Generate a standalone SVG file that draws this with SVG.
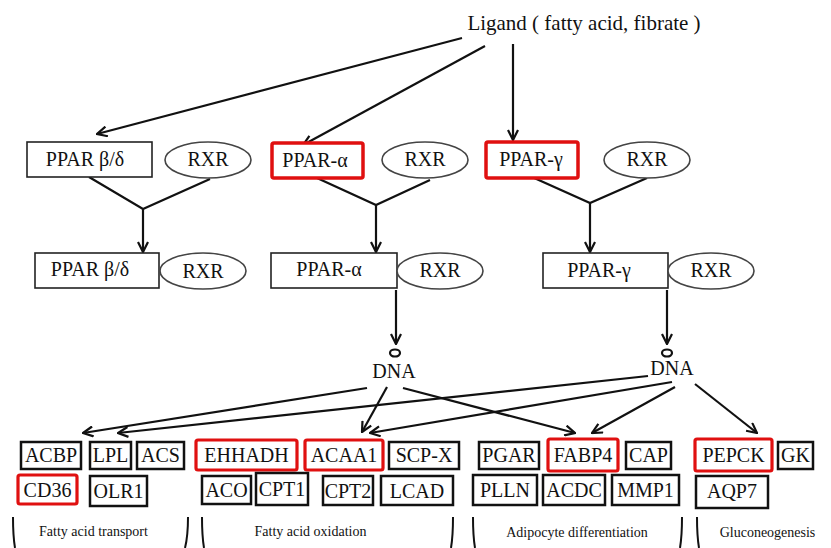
<svg xmlns="http://www.w3.org/2000/svg" width="831" height="548" viewBox="0 0 831 548">
<style>
text{font-family:"Liberation Serif","Times New Roman",serif;fill:#111;text-anchor:middle}
.big{font-size:21px}
.lab{font-size:20px}
.cat{font-size:14px}
.pbox{fill:#fff;stroke:#222;stroke-width:1.6}
.red{fill:#fff;stroke:#e01010;stroke-width:3.5}
.ell{fill:#fff;stroke:#444;stroke-width:1.6}
.gbox{fill:#fff;stroke:#111;stroke-width:2.5}
.gred{fill:#fff;stroke:#e01010;stroke-width:3.2}
.ln{fill:none;stroke:#111;stroke-width:2.2}
.arr{fill:none;stroke:#111;stroke-width:2.2;marker-end:url(#ah)}
.par{fill:none;stroke:#111;stroke-width:2}
</style>
<defs>
<marker id="ah" viewBox="0 0 12 12" refX="11" refY="6" markerWidth="12" markerHeight="12" markerUnits="userSpaceOnUse" orient="auto">
<path d="M1,1 L11,6 L1,11" fill="none" stroke="#111" stroke-width="2.2"/>
</marker>
</defs>
<rect width="831" height="548" fill="#fff"/>

<g id="connectors">
<line class="arr" x1="462" y1="38" x2="97" y2="134"/>
<line class="arr" x1="485" y1="46" x2="303" y2="145"/>
<line class="arr" x1="513" y1="44" x2="513" y2="140"/>
<polyline class="ln" points="89,177 143,209 210,179"/>
<line class="arr" x1="143" y1="209" x2="143" y2="252"/>
<polyline class="ln" points="317,178 376,205 430,180"/>
<line class="arr" x1="376" y1="205" x2="376" y2="252"/>
<polyline class="ln" points="532,177 590,203 647,178"/>
<line class="arr" x1="590" y1="203" x2="590" y2="252"/>
<line class="arr" x1="396" y1="290" x2="396" y2="344"/>
<line class="arr" x1="667" y1="290" x2="667" y2="344"/>
<line class="arr" x1="367" y1="388" x2="83" y2="433"/>
<line class="arr" x1="648" y1="376" x2="118" y2="433"/>
<line class="arr" x1="387" y1="387" x2="362" y2="432"/>
<line class="arr" x1="672" y1="382" x2="370" y2="433"/>
<line class="arr" x1="403" y1="388" x2="575" y2="433"/>
<line class="arr" x1="675" y1="387" x2="592" y2="433"/>
<line class="arr" x1="695" y1="384" x2="757" y2="433"/>
</g>

<g id="ligand"><text class="big" x="584" y="30">Ligand ( fatty acid, fibrate )</text></g>

<g id="ppar-bd-1"><rect class="pbox" x="27" y="142" width="125" height="35"/><text class="lab" x="85" y="166">PPAR β/δ</text></g>
<g id="rxr-1"><ellipse class="ell" cx="208" cy="160" rx="43" ry="18"/><text class="lab" x="208" y="166">RXR</text></g>
<g id="ppar-a-1"><rect class="red" x="272" y="143" width="91" height="35" rx="2"/><text class="lab" x="315" y="167">PPAR-α</text></g>
<g id="rxr-2"><ellipse class="ell" cx="425" cy="160" rx="43" ry="18"/><text class="lab" x="425" y="166">RXR</text></g>
<g id="ppar-g-1"><rect class="red" x="486" y="142" width="92" height="36" rx="2"/><text class="lab" x="531" y="166">PPAR-γ</text></g>
<g id="rxr-3"><ellipse class="ell" cx="647" cy="160" rx="43" ry="18"/><text class="lab" x="647" y="166">RXR</text></g>

<g id="ppar-bd-2"><rect class="pbox" x="35" y="253" width="124" height="35"/><text class="lab" x="90" y="276">PPAR β/δ</text></g>
<g id="rxr-4"><ellipse class="ell" cx="203" cy="271" rx="43" ry="18"/><text class="lab" x="203" y="278">RXR</text></g>
<g id="ppar-a-2"><rect class="pbox" x="271" y="253" width="126" height="35"/><text class="lab" x="329" y="276">PPAR-α</text></g>
<g id="rxr-5"><ellipse class="ell" cx="440" cy="271" rx="43" ry="18"/><text class="lab" x="440" y="277">RXR</text></g>
<g id="ppar-g-2"><rect class="pbox" x="543" y="253" width="125" height="35"/><text class="lab" x="599" y="277">PPAR-γ</text></g>
<g id="rxr-6"><ellipse class="ell" cx="711" cy="271" rx="43" ry="18"/><text class="lab" x="711" y="277">RXR</text></g>

<g id="dna-1"><ellipse class="ln" cx="395" cy="353" rx="5" ry="3.5"/><text class="lab" x="394" y="378">DNA</text></g>
<g id="dna-2"><ellipse class="ln" cx="667" cy="353" rx="5" ry="3.5"/><text class="lab" x="672" y="375">DNA</text></g>

<g id="acbp"><rect class="gbox" x="21" y="442" width="60" height="27"/><text class="lab" x="51" y="462">ACBP</text></g>
<g id="lpl"><rect class="gbox" x="90" y="442" width="41" height="27"/><text class="lab" x="110.5" y="462">LPL</text></g>
<g id="acs"><rect class="gbox" x="137" y="442" width="47" height="27"/><text class="lab" x="160.5" y="462">ACS</text></g>
<g id="ehhadh"><rect class="gred" x="196" y="440" width="101" height="30" rx="2"/><text class="lab" x="246.5" y="462">EHHADH</text></g>
<g id="acaa1"><rect class="gred" x="305" y="440" width="78" height="30" rx="2"/><text class="lab" x="344" y="462">ACAA1</text></g>
<g id="scpx"><rect class="gbox" x="389" y="442" width="70" height="27"/><text class="lab" x="424" y="462">SCP-X</text></g>
<g id="pgar"><rect class="gbox" x="479" y="442" width="60" height="27"/><text class="lab" x="509" y="462">PGAR</text></g>
<g id="fabp4"><rect class="gred" x="548" y="439" width="70" height="32" rx="2"/><text class="lab" x="583" y="462">FABP4</text></g>
<g id="cap"><rect class="gbox" x="626" y="442" width="45" height="27"/><text class="lab" x="648.5" y="462">CAP</text></g>
<g id="pepck"><rect class="gred" x="695" y="439" width="77" height="32" rx="2"/><text class="lab" x="733.5" y="462">PEPCK</text></g>
<g id="gk"><rect class="gbox" x="778" y="442" width="35" height="27"/><text class="lab" x="795.5" y="462">GK</text></g>

<g id="cd36"><rect class="gred" x="18" y="475" width="59" height="29" rx="2"/><text class="lab" x="47.5" y="497">CD36</text></g>
<g id="olr1"><rect class="gbox" x="90" y="476" width="57" height="30"/><text class="lab" x="118.5" y="498">OLR1</text></g>
<g id="aco"><rect class="gbox" x="202" y="476" width="49" height="28"/><text class="lab" x="226.5" y="497">ACO</text></g>
<g id="cpt1"><rect class="gbox" x="256" y="473" width="52" height="32"/><text class="lab" x="282" y="496">CPT1</text></g>
<g id="cpt2"><rect class="gbox" x="323" y="476" width="50" height="29"/><text class="lab" x="348" y="498">CPT2</text></g>
<g id="lcad"><rect class="gbox" x="381" y="476" width="72" height="29"/><text class="lab" x="417" y="498">LCAD</text></g>
<g id="plln"><rect class="gbox" x="473" y="475" width="64" height="30"/><text class="lab" x="505" y="497">PLLN</text></g>
<g id="acdc"><rect class="gbox" x="543" y="475" width="62" height="30"/><text class="lab" x="574" y="497">ACDC</text></g>
<g id="mmp1"><rect class="gbox" x="612" y="475" width="67" height="30"/><text class="lab" x="645.5" y="497">MMP1</text></g>
<g id="aqp7"><rect class="gbox" x="696" y="476" width="72" height="32"/><text class="lab" x="732" y="498">AQP7</text></g>

<g id="categories">
<path class="par" d="M13,517 Q13,536 15,548"/>
<path class="par" d="M188,517 Q188,536 185,548"/>
<text class="cat" x="93.5" y="536">Fatty acid transport</text>
<path class="par" d="M202,517 Q202,536 204,548"/>
<path class="par" d="M453,517 Q453,536 451,548"/>
<text class="cat" x="310.5" y="536">Fatty acid oxidation</text>
<path class="par" d="M473,517 Q473,536 475,548"/>
<path class="par" d="M682,517 Q682,536 680,548"/>
<text class="cat" x="577" y="537">Adipocyte differentiation</text>
<path class="par" d="M697,517 Q697,536 699,548"/>
<text class="cat" x="767.5" y="537">Gluconeogenesis</text>
</g>
</svg>
